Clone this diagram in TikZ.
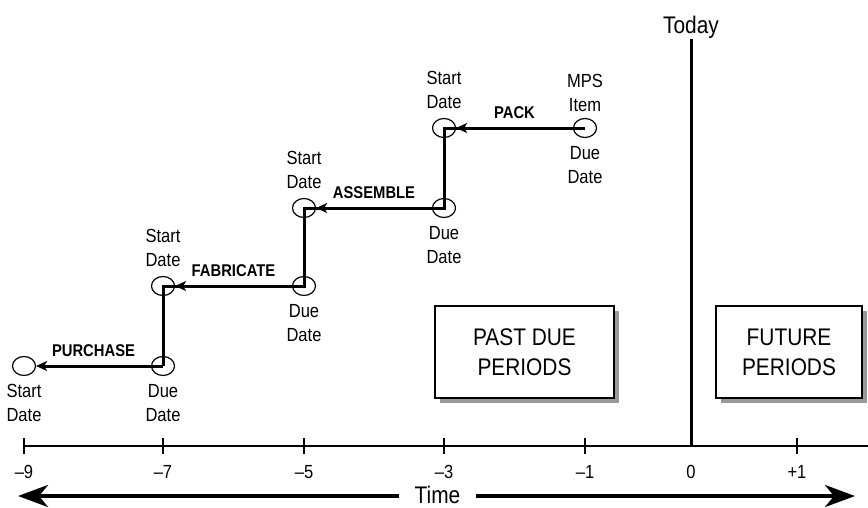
\documentclass[tikz,border=0pt]{standalone}
\usepackage{fontspec}
\setmainfont{Liberation Sans}[FakeStretch=0.87]
\usetikzlibrary{arrows.meta,positioning,shapes.geometric,shadows}

\begin{document}
\begin{tikzpicture}[
    x=1pt, y=-1pt,
    dt/.style={draw,ellipse,line width=1.2pt,minimum width=23pt,minimum height=19pt,inner sep=0pt},
    lbl/.style={align=center,inner sep=0pt,font=\fontsize{19}{24}\selectfont},
    big/.style={align=center,inner sep=0pt,font=\fontsize{24}{30}\selectfont},
    op/.style={inner sep=0pt,font=\fontsize{17}{20}\selectfont\bfseries},
    stepln/.style={line width=3pt,line join=miter},
    optip/.style={-{Stealth[length=11pt,width=10pt,inset=3pt]},line width=3pt},
    period/.style={draw,line width=1.2pt,fill=white,minimum height=92pt,big,
      drop shadow={shadow xshift=5pt,shadow yshift=-5pt,fill=gray!80,opacity=1}},
    timearr/.style={-{Stealth[length=30pt,width=22pt,inset=9pt]},line width=4pt},
  ]
  \useasboundingbox (0,0) rectangle (868,507);

  % time axis
  \draw[line width=2.4pt] (24,446) -- (868,446);
  \foreach \x/\t in {24/{–9},163/{–7},304/{–5},444/{–3},585/{–1},797/{+1}} {
    \draw[line width=1.4pt] (\x,438) -- (\x,454);
    \node[lbl] (n\x) at (\x,472) {\t};
  }
  \node[lbl] (n0) at (691,472) {0};

  % today
  \node[big,anchor=base,inner sep=1pt] (today) at (691,33) {Today};
  \coordinate (t0) at (691,446);
  \draw[line width=3pt] (today.south) -- (t0);

  % dates
  \node[dt] (p9) at (24,366) {};
  \node[dt] (p7) at (163,366) {};
  \node[dt] (f7) at (163,286) {};
  \node[dt] (f5) at (304,286) {};
  \node[dt] (a5) at (304,208) {};
  \node[dt] (a3) at (444,208) {};
  \node[dt] (k3) at (444,128) {};
  \node[dt] (k1) at (585,128) {};

  \node[lbl,below=8pt of p9] (lp9) {Start\\Date};
  \node[lbl,below=8pt of p7] (lp7) {Due\\Date};
  \node[lbl,above=9pt of f7] (lf7) {Start\\Date};
  \node[lbl,below=8pt of f5] (lf5) {Due\\Date};
  \node[lbl,above=9pt of a5] (la5) {Start\\Date};
  \node[lbl,below=8pt of a3] (la3) {Due\\Date};
  \node[lbl,above=9pt of k3] (lk3) {Start\\Date};
  \node[lbl,above=6pt of k1] (mps) {MPS\\Item};
  \node[lbl,below=8pt of k1] (lk1) {Due\\Date};

  % operations
  \draw[stepln] (k1.center) -- (k3.center) -- (a3.center) -- (a5.center)
    -- (f5.center) -- (f7.center) -- (p7.center);
  \draw[optip] (k1.center) -- (k3.east);
  \draw[optip] (a3.center) -- (a5.east);
  \draw[optip] (f5.center) -- (f7.east);
  \draw[optip] (p7.center) -- (p9.east);
  \path (k1) -- (k3) node[op,midway,above=9pt] (pack) {PACK};
  \path (a3) -- (a5) node[op,midway,above=9pt] (asm) {ASSEMBLE};
  \path (f5) -- (f7) node[op,midway,above=9pt] (fab) {FABRICATE};
  \path (p7) -- (p9) node[op,midway,above=9pt] (pur) {PURCHASE};

  % periods
  \node[period,minimum width=179pt] (past) at (524.5,352) {PAST DUE\\PERIODS};
  \node[period,minimum width=146pt] (fut) at (789,352) {FUTURE\\PERIODS};

  % time arrow
  \node[big,inner xsep=15pt] (time) at (437.5,495) {Time};
  \coordinate (tl) at (18,496);
  \coordinate (tr) at (855,496);
  \draw[timearr] (time.west |- tl) -- (tl);
  \draw[timearr] (time.east |- tr) -- (tr);
\end{tikzpicture}
\end{document}
